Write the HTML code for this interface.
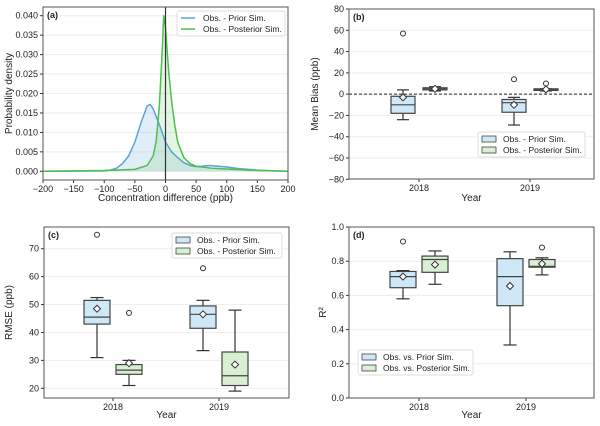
<!DOCTYPE html>
<html><head><meta charset="utf-8"><style>
body{margin:0;background:#fff}
svg{display:block;font-family:"Liberation Sans",sans-serif}
</style></head><body>
<svg id="fig" width="600" height="426" viewBox="0 0 600 426"></svg>
<script>
// Panel (a) data
const kdeX=[-200,-100,-90,-80,-70,-60,-50,-40,-30,-25,-20,-10,0,10,20,30,40,50,60,70,80,100,120,150,180,200];
const priorY=[0,0.0001,0.0003,0.0008,0.002,0.004,0.0075,0.0125,0.0168,0.0172,0.016,0.012,0.0075,0.005,0.0035,0.0022,0.0015,0.0012,0.0013,0.0015,0.0014,0.0011,0.0007,0.0003,0.0001,0];
const postX=[-200,-100,-50,-30,-20,-15,-10,-5,-3,0,5,10,15,20,30,40,50,75,100,150,200];
const postY=[0,0.0002,0.0005,0.0015,0.004,0.008,0.017,0.032,0.040,0.037,0.026,0.018,0.012,0.0075,0.0035,0.002,0.0013,0.0008,0.0006,0.0002,0];
const aXTicks=[-200,-150,-100,-50,0,50,100,150,200];
const aYTicks=[0,0.005,0.01,0.015,0.02,0.025,0.03,0.035,0.04];
// Box stats: [whiskerLow, q1, median, q3, whiskerHigh, mean, outliers]
const years=["2018","2019"];
const bPrior=[[-24,-18,-10,-2,4,-3,[57]],[-29,-17,-8,-5,-3,-10,[14]]];
const bPost=[[3,4,5,6,7,5,[]],[3,3.5,4,5,5,4.5,[10]]];
const cPrior=[[31,43,45.5,51.5,52.5,48.5,[75]],[33.5,41.5,46.5,49.5,51.5,46.5,[63]]];
const cPost=[[21,25,26.5,28.5,30,29,[47]],[19,21,24.5,33,48,28.5,[]]];
const dPrior=[[0.58,0.645,0.71,0.74,0.745,0.71,[0.915]],[0.31,0.54,0.71,0.815,0.855,0.655,[]]];
const dPost=[[0.665,0.735,0.81,0.83,0.86,0.78,[]],[0.72,0.765,0.77,0.81,0.82,0.785,[0.88]]];
const bYTicks=[-80,-60,-40,-20,0,20,40,60,80];
const cYTicks=[20,30,40,50,60,70];
const dYTicks=[0,0.2,0.4,0.6,0.8,1.0];

const svg=document.getElementById('fig');
const NS="http://www.w3.org/2000/svg";
function mk(tag,attrs,parent,txt){const e=document.createElementNS(NS,tag);for(const k in attrs)e.setAttribute(k,attrs[k]);if(txt!==undefined)e.textContent=txt;(parent||svg).appendChild(e);return e;}
function lin(d0,d1,r0,r1){return v=>r0+(v-d0)/(d1-d0)*(r1-r0);}
const BLUE="#5ba3dc",GREEN="#4cbf4c",BFILL="#cfe8f8",GFILL="#d9efd3";

function frame(g,L,T,R,B){const r=mk('rect',{x:L,y:T,width:R-L,height:B-T,fill:'none',stroke:'#555','stroke-width':1},g);}
function yAxis(g,ticks,y,L,R,fmt){ticks.forEach(t=>{const yy=y(t);
 const gl=mk('line',{x1:L,x2:R,y1:yy,y2:yy,stroke:'#eee','stroke-width':1},g);
 mk('line',{x1:L-3,x2:L,y1:yy,y2:yy,stroke:'#333'},g);
 const tx=mk('text',{x:L-5,y:yy+3,'font-size':9,'text-anchor':'end',fill:'#222'},g,fmt(t));});}
function label(g,x,y,txt,name,rot,bold){const a={x:x,y:y,'font-size':bold?9:10,fill:'#222','text-anchor':bold?'start':'middle'};if(bold)a['font-weight']='bold';if(rot)a.transform=`rotate(-90 ${x} ${y})`;const t=mk('text',a,g,txt);return t;}

// ---- Panel a
(function(){
 const g=mk('g',{});
 const L=43,R=288,T=7,B=180;
 const x=lin(-200,200,L,R),y=lin(0,0.04,171.3,15.7);
 yAxis(g,aYTicks,y,L,R,t=>t.toFixed(3));
 aXTicks.forEach(t=>{mk('line',{x1:x(t),x2:x(t),y1:B,y2:B+3,stroke:'#333'},g);const tx=mk('text',{x:x(t),y:B+12,'font-size':9,'text-anchor':'middle',fill:'#222'},g,t<0?'\u2212'+(-t):String(t));});
 function series(xs,ys,col,fill,name){const pts=xs.map((v,i)=>[x(v),y(ys[i])]);
  const ar=mk('path',{d:'M'+x(xs[0])+','+y(0)+' L'+pts.map(p=>p.join(',')).join(' L')+' L'+x(xs[xs.length-1])+','+y(0)+'Z',fill:fill,stroke:'none'},g);
  const ln=mk('path',{d:'M'+pts.map(p=>p.join(',')).join(' L'),fill:'none',stroke:col,'stroke-width':1.5,'stroke-linejoin':'round'},g);}
 series(kdeX,priorY,BLUE,'rgba(91,163,220,0.18)','prior-density');
 series(postX,postY,GREEN,'rgba(76,191,76,0.15)','posterior-density');
 const z=mk('line',{x1:x(0),x2:x(0),y1:T,y2:B,stroke:'#333','stroke-width':1.2},g);
 frame(g,L,T,R,B);
 label(g,47,18,'(a)','panel-label',false,true);
 label(g,(L+R)/2,201,'Concentration difference (ppb)','x-axis-title');
 label(g,12,(T+B)/2,'Probability density','y-axis-title',true);
 const lg=mk('g',{},g);
 mk('rect',{x:177,y:11,width:108,height:25,fill:'#fff',stroke:'#ddd',rx:2},lg);
 [[BLUE,'Obs. - Prior Sim.'],[GREEN,'Obs. - Posterior Sim.']].forEach((e,i)=>{const yy=18+i*11;
  mk('line',{x1:181,x2:195,y1:yy,y2:yy,stroke:e[0],'stroke-width':1.5},lg);
  const t=mk('text',{x:203,y:yy+3,'font-size':8.5,fill:'#222'},lg,e[1]);});
})();

// ---- Box panels
function boxPanel(opt){
 const g=mk('g',{});
 const {L,R,T,B}=opt;const y=lin(opt.y0,opt.y1,opt.py0,opt.py1);
 yAxis(g,opt.yt,y,L,R,opt.fmt);
 if(opt.dash){const d=mk('line',{x1:L,x2:R,y1:y(0),y2:y(0),stroke:'#222','stroke-dasharray':'3,2'},g);}
 const xs=opt.xpos;const w=opt.bw;
 years.forEach((yr,i)=>{mk('line',{x1:xs[i],x2:xs[i],y1:B,y2:B+3,stroke:'#333'},g);const t=mk('text',{x:xs[i],y:B+12,'font-size':9,'text-anchor':'middle',fill:'#222'},g,yr);});
 [[opt.prior,BFILL,-1,'prior'],[opt.post,GFILL,1,'posterior']].forEach(s=>{
  s[0].forEach((st,i)=>{const cx=xs[i]+s[2]*opt.off;const bg=mk('g',{},g);
   const c='#333';
   mk('line',{x1:cx,x2:cx,y1:y(st[0]),y2:y(st[1]),stroke:c,'stroke-width':1.2},bg);
   mk('line',{x1:cx,x2:cx,y1:y(st[3]),y2:y(st[4]),stroke:c,'stroke-width':1.2},bg);
   mk('line',{x1:cx-w/4,x2:cx+w/4,y1:y(st[0]),y2:y(st[0]),stroke:c,'stroke-width':1.2},bg);
   mk('line',{x1:cx-w/4,x2:cx+w/4,y1:y(st[4]),y2:y(st[4]),stroke:c,'stroke-width':1.2},bg);
   mk('rect',{x:cx-w/2,y:y(st[3]),width:w,height:Math.max(1,y(st[1])-y(st[3])),fill:s[1],stroke:'#444','stroke-width':1.2},bg);
   mk('line',{x1:cx-w/2,x2:cx+w/2,y1:y(st[2]),y2:y(st[2]),stroke:'#444','stroke-width':1.2},bg);
   st[6].forEach(o=>mk('circle',{cx:cx,cy:y(o),r:2.5,fill:'#fff',stroke:'#333','stroke-width':1},bg));
   const m=y(st[5]);mk('path',{d:`M${cx},${m-3.5} L${cx+3.5},${m} L${cx},${m+3.5} L${cx-3.5},${m}Z`,fill:'#fff',stroke:'#333','stroke-width':1},bg);
  });});
 frame(g,L,T,R,B);
 label(g,L+4,T+11,opt.tag,'panel-label',false,true);
 label(g,(L+R)/2,opt.xty,'Year','x-axis-title');
 label(g,opt.yty,(T+B)/2,opt.ytitle,'y-axis-title',true);
 const lg=mk('g',{},g);
 const [lx,ly,lw]=opt.leg;
 mk('rect',{x:lx,y:ly,width:lw,height:25,fill:'#fff',stroke:'#ddd',rx:2},lg);
 [[BFILL,opt.l1],[GFILL,opt.l2]].forEach((e,i)=>{const yy=ly+7+i*11;
  mk('rect',{x:lx+4,y:yy-3,width:14,height:6,fill:e[0],stroke:'#444','stroke-width':0.8},lg);
  const t=mk('text',{x:lx+25,y:yy+3,'font-size':8.5,fill:'#222'},lg,e[1]);});
}
boxPanel({name:'panel-b',tag:'(b)',L:349,R:594,T:9,B:179,y0:-80,y1:80,py0:179.3,py1:9,yt:bYTicks,fmt:t=>t<0?'\u2212'+(-t):String(t),dash:true,xpos:[419,530],off:16,bw:24,prior:bPrior,post:bPost,xty:201,yty:318,ytitle:'Mean Bias (ppb)',leg:[478,132,107],l1:'Obs. - Prior Sim.',l2:'Obs. - Posterior Sim.'});
boxPanel({name:'panel-c',tag:'(c)',L:44,R:289,T:227,B:398,y0:20,y1:70,py0:388.3,py1:248.7,yt:cYTicks,fmt:t=>String(t),xpos:[113,219],off:16,bw:26,prior:cPrior,post:cPost,xty:418,yty:12,ytitle:'RMSE (ppb)',leg:[172,233,110],l1:'Obs. - Prior Sim.',l2:'Obs. - Posterior Sim.'});
boxPanel({name:'panel-d',tag:'(d)',L:349,R:594,T:227,B:398,y0:0,y1:1,py0:398,py1:227,yt:dYTicks,fmt:t=>t.toFixed(1),xpos:[419,526],off:16,bw:26,prior:dPrior,post:dPost,xty:418,yty:326,ytitle:'R\u00b2',leg:[358,350,115],l1:'Obs. vs. Prior Sim.',l2:'Obs. vs. Posterior Sim.'});
</script>
</body></html>
